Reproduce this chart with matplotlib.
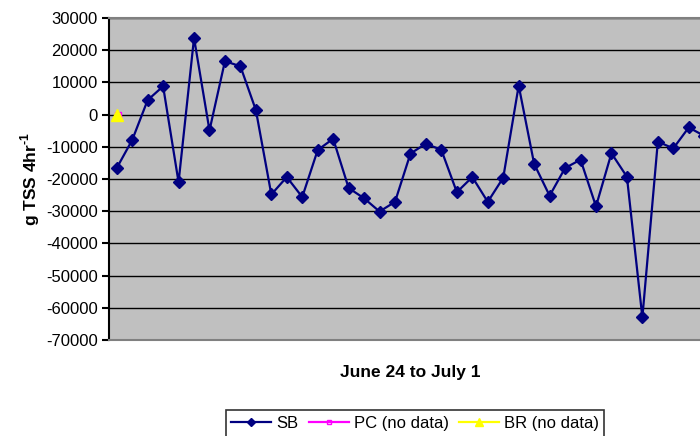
import matplotlib
matplotlib.use('Agg')
import matplotlib.pyplot as plt
import numpy as np

plt.rcParams['font.family'] = ['Liberation Sans', 'DejaVu Sans']
plt.rcParams['mathtext.fontset'] = 'custom'
plt.rcParams['mathtext.rm'] = 'Liberation Sans:bold'
plt.rcParams['mathtext.bf'] = 'Liberation Sans:bold'

# 4-hour loads, June 24 to July 1
sb = [-16600, -7900, 4500, 8800, -21000, 23800, -4900, 16600, 15000, 1400,
      -24800, -19400, -25600, -11000, -7500, -22800, -26000, -30100, -27100, -12100,
      -9000, -11000, -24100, -19400, -27100, -19600, 9000, -15300, -25200, -16600,
      -14000, -28500, -12000, -19300, -63000, -8400, -10500, -4000, -6600]
pc = [0]
br = [0]
yticks = np.arange(-70000, 30001, 10000)

W, H = 700, 436
fig = plt.figure(figsize=(W / 100, H / 100), dpi=100)
ax = fig.add_axes([109 / W, 1 - 340 / H, 1 - 109 / W, (340 - 18) / H])
ax.set_facecolor('#C0C0C0')

x = np.arange(len(sb))
ax.plot(x, sb, color='#000080', lw=1.6, marker='D', ms=6, label='SB')
ax.plot(np.arange(len(pc)) + 0.1, pc, color='#FF00FF', lw=1.6, marker='s', ms=4,
        mfc='none', mec='#FF00FF', label='PC (no data)')
ax.plot(np.arange(len(br)), br, color='#FFFF00', lw=1.6, marker='^', ms=8.5,
        label='BR (no data)')

ax.set_xlim(-0.5, (700 - 109) / 15.46 - 0.5)
ax.set_ylim(-70000, 30000)
ax.set_yticks(yticks)
ax.set_yticklabels([str(v) for v in yticks], fontsize=12)
ax.set_xticks([])
ax.yaxis.grid(True, color='black', lw=1)
ax.set_axisbelow(True)

ax.spines['right'].set_visible(False)
ax.spines['top'].set_color('#808080')
ax.spines['bottom'].set_color('#808080')
ax.spines['top'].set_linewidth(1.5)
ax.spines['bottom'].set_linewidth(1.5)
ax.spines['left'].set_linewidth(1.5)
ax.tick_params(axis='y', direction='out', length=5, width=1.5, pad=3)

ax.set_ylabel(r'g TSS 4hr$^{\text{-1}}$', fontsize=12.5, fontweight='bold')
ax.yaxis.set_label_coords(-(109 - 30) / (700 - 109), 0.5)
ax.set_xlabel('June 24 to July 1', fontsize=12.5, fontweight='bold')
ax.xaxis.set_label_coords((410 - 109) / (700 - 109), -(372 - 340) / (340 - 18))
ax.xaxis.label.set_va('center')
ax.yaxis.label.set_va('center')

leg = fig.legend(loc='upper center', bbox_to_anchor=(415 / W, 1 - 402 / H),
                 ncol=3, fontsize=12, frameon=True, fancybox=False,
                 edgecolor='black', borderpad=0.35, handlelength=2.4,
                 columnspacing=0.6, handletextpad=0.3, markerscale=0.75)
leg.get_frame().set_linewidth(1.2)

fig.savefig('out.png', dpi=100)
